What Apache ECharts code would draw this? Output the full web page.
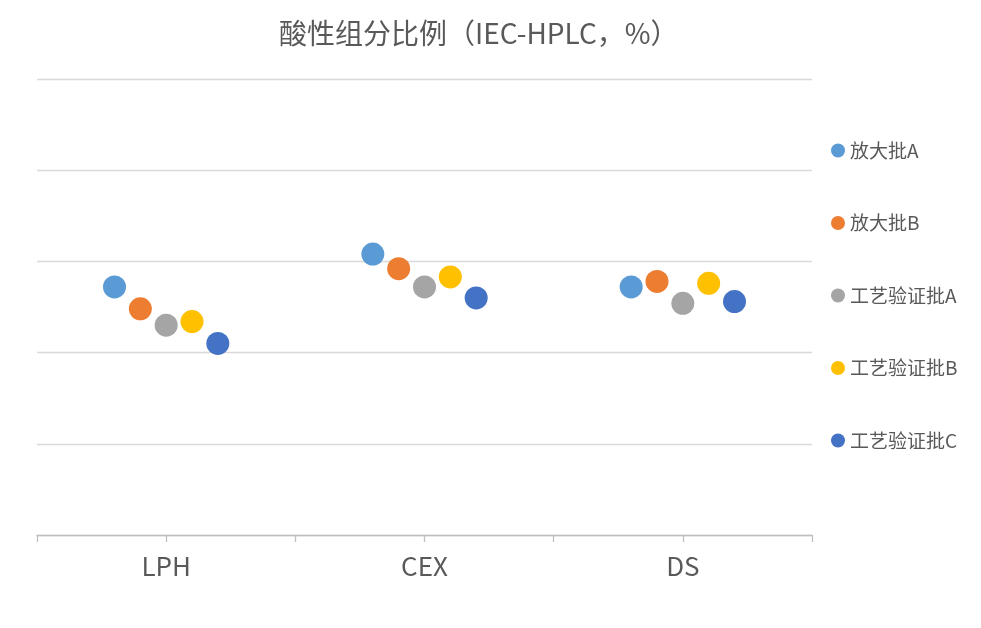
<!DOCTYPE html>
<html>
<head>
<meta charset="utf-8">
<script src="https://cdn.jsdelivr.net/npm/echarts@6/dist/echarts.min.js"></script>
<style>html,body{margin:0;padding:0;background:#fff;}#c{width:981px;height:628px;}</style>
</head>
<body>
<div id="c"></div>
<script>
var categories = ['LPH', 'CEX', 'DS'];
var seriesNames = ['放大批A', '放大批B', '工艺验证批A', '工艺验证批B', '工艺验证批C'];
var batchA = [27.2, 30.8, 27.2];
var batchB = [24.8, 29.2, 27.8];
var pvA = [23.0, 27.2, 25.4];
var pvB = [23.4, 28.3, 27.6];
var pvC = [21.0, 26.0, 25.6];
var colors = ['#5B9BD5', '#ED7D31', '#A5A5A5', '#FFC000', '#4472C4'];

var allValues = [batchA, batchB, pvA, pvB, pvC];
var font = '"Noto Sans CJK SC", "Noto Sans", sans-serif';

var series = allValues.map(function (vals, j) {
  return {
    name: seriesNames[j],
    type: 'scatter',
    xAxisIndex: 0,
    symbol: 'circle',
    symbolSize: 23,
    itemStyle: { color: colors[j], opacity: 1 },
    data: vals.map(function (v, i) { return [2 * i + 1 + (j - 2) * 0.2, v]; })
  };
});

var chart = echarts.init(document.getElementById('c'));
chart.setOption({
  animation: false,
  title: {
    text: '酸性组分比例（IEC-HPLC，%）',
    left: 274,
    top: 14,
    textStyle: { fontFamily: font, fontSize: 28, fontWeight: 'normal', color: '#595959' }
  },
  legend: {
    orient: 'vertical',
    left: 826,
    top: 136,
    icon: 'circle',
    itemWidth: 14,
    itemHeight: 14,
    itemGap: 53.5,
    textStyle: { fontFamily: font, fontSize: 19, color: '#595959' },
    data: seriesNames
  },
  grid: { left: 37, right: 169, top: 79, bottom: 93, containLabel: false },
  xAxis: [{
    type: 'value',
    min: 0,
    max: 6,
    interval: 1,
    position: 'bottom',
    splitLine: { show: false },
    axisLine: { show: false },
    axisTick: { show: false },
    axisLabel: {
      margin: 18,
      fontFamily: font,
      fontSize: 26,
      color: '#595959',
      formatter: function (v) {
        return (v % 2 === 1) ? categories[(v - 1) / 2] : '';
      }
    }
  }, {
    type: 'value',
    min: 0,
    max: 6,
    interval: 1,
    position: 'bottom',
    offset: 0,
    splitLine: { show: false },
    axisLine: { show: true, onZero: false, lineStyle: { color: '#BFBFBF', width: 1.3 } },
    axisTick: { show: true, length: 7, lineStyle: { color: '#BFBFBF', width: 1.3 } },
    axisLabel: { show: false }
  }],
  yAxis: {
    type: 'value',
    min: 0,
    max: 50,
    interval: 10,
    axisLine: { show: false },
    axisTick: { show: false },
    axisLabel: { show: false },
    splitLine: { lineStyle: { color: '#D9D9D9', width: 1.3 } }
  },
  series: series
});
</script>
</body>
</html>
